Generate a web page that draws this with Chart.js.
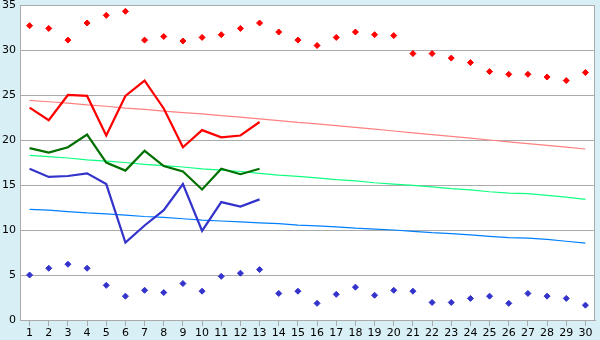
<!DOCTYPE html>
<html>
<head>
<meta charset="utf-8">
<script src="https://cdn.jsdelivr.net/npm/chart.js@4/dist/chart.umd.min.js"></script>
<style>
  html, body { margin: 0; padding: 0; background: #d9eff6; }
  #wrap { width: 600px; height: 340px; }
</style>
</head>
<body>
<div id="wrap"><canvas id="chart" width="600" height="340"></canvas></div>
<script>
// categories (day of month)
const days = ['1', '2', '3', '4', '5', '6', '7', '8', '9', '10', '11', '12', '13', '14', '15',
    '16', '17', '18', '19', '20', '21', '22', '23', '24', '25', '26', '27', '28', '29', '30'];

// record highs / lows (diamond markers)
const recordHigh = [32.7, 32.4, 31.1, 33.0, 33.85, 34.3, 31.1, 31.5, 31.0, 31.4, 31.7, 32.4, 33.0, 32.0, 31.1,
    30.5, 31.4, 32.0, 31.7, 31.6, 29.6, 29.6, 29.1, 28.6, 27.6, 27.3, 27.3, 27.0, 26.6, 27.5];
const recordLow = [5.0, 5.75, 6.2, 5.75, 3.85, 2.65, 3.3, 3.05, 4.05, 3.2, 4.85, 5.2, 5.6, 2.95, 3.2,
    1.85, 2.85, 3.65, 2.75, 3.3, 3.2, 1.95, 1.95, 2.4, 2.65, 1.85, 2.95, 2.65, 2.4, 1.65];

// current month (first 13 days)
const maxTemp = [23.6, 22.2, 25.0, 24.9, 20.5, 24.9, 26.6, 23.5, 19.2, 21.1, 20.3, 20.5, 22.0];
const meanTemp = [19.1, 18.6, 19.2, 20.6, 17.5, 16.6, 18.8, 17.1, 16.5, 14.5, 16.8, 16.2, 16.8];
const minTemp = [16.8, 15.9, 16.0, 16.3, 15.1, 8.6, 10.5, 12.2, 15.1, 9.9, 13.1, 12.6, 13.4];

// long-term normals
const normalMax = [24.4, 24.25, 24.1, 23.9, 23.75, 23.55, 23.4, 23.2, 23.05, 22.9, 22.7, 22.55, 22.35, 22.15, 21.95,
    21.8, 21.6, 21.4, 21.2, 21.0, 20.8, 20.6, 20.4, 20.2, 20.0, 19.8, 19.6, 19.4, 19.2, 19.0];
const normalMean = [18.3, 18.15, 18.0, 17.8, 17.65, 17.5, 17.3, 17.15, 17.0, 16.8, 16.65, 16.5, 16.3, 16.1, 15.95,
    15.8, 15.6, 15.45, 15.25, 15.1, 14.95, 14.8, 14.6, 14.45, 14.25, 14.1, 14.05, 13.85, 13.65, 13.4];
const normalMin = [12.3, 12.2, 12.05, 11.9, 11.8, 11.65, 11.5, 11.4, 11.25, 11.1, 11.0, 10.9, 10.8, 10.7, 10.55,
    10.45, 10.35, 10.2, 10.1, 10.0, 9.85, 9.7, 9.6, 9.45, 9.3, 9.15, 9.1, 8.95, 8.75, 8.55];

const yTicks = [0, 5, 10, 15, 20, 25, 30, 35];

const GRID = '#aaaaaa';

const plotFrame = {
    id: 'plotFrame',
    beforeDraw(chart) {
        const { ctx, chartArea: a } = chart;
        ctx.save();
        ctx.fillStyle = '#ffffff';
        ctx.fillRect(a.left, a.top, a.right - a.left, a.bottom - a.top);
        ctx.restore();
    },
    afterDraw(chart) {
        const { ctx, chartArea: a } = chart;
        ctx.save();
        ctx.strokeStyle = GRID;
        ctx.lineWidth = 1;
        ctx.strokeRect(a.left + 0.5, a.top + 0.5, a.right - a.left - 1, a.bottom - a.top);
        ctx.restore();
    }
};

function lineSet(data, color, width) {
    return {
        type: 'line',
        data: data,
        borderColor: color,
        borderWidth: width,
        pointRadius: 0,
        tension: 0,
        fill: false
    };
}

function markerSet(data, color) {
    return {
        type: 'line',
        data: data,
        showLine: false,
        pointStyle: 'rectRot',
        pointRadius: 3,
        pointBackgroundColor: color,
        pointBorderColor: color,
        pointBorderWidth: 1
    };
}

new Chart(document.getElementById('chart'), {
    type: 'line',
    data: {
        labels: days,
        datasets: [
            markerSet(recordHigh, '#ff0000'),
            markerSet(recordLow, '#3333cc'),
            lineSet(maxTemp, '#ff0000', 2.2),
            lineSet(meanTemp, '#007000', 2.2),
            lineSet(minTemp, '#3333cc', 2.2),
            lineSet(normalMax, '#ff8080', 1.2),
            lineSet(normalMean, '#10ff80', 1.2),
            lineSet(normalMin, '#0080ff', 1.2)
        ]
    },
    options: {
        responsive: false,
        animation: false,
        layout: { padding: { top: 5, right: 5, left: 0, bottom: 0 } },
        plugins: {
            legend: { display: false },
            tooltip: { enabled: false }
        },
        scales: {
            x: {
                offset: true,
                afterFit: s => { s.height = 20; s.paddingLeft = 0; s.paddingRight = 0; },
                grid: {
                    drawOnChartArea: false,
                    drawTicks: true,
                    tickLength: 6,
                    color: GRID
                },
                border: { color: GRID },
                ticks: {
                    color: '#000000',
                    padding: 1,
                    maxRotation: 0,
                    autoSkip: false,
                    font: { family: 'DejaVu Sans', size: 11 }
                }
            },
            y: {
                min: 0,
                max: 35,
                afterFit: s => { s.width = 20; s.paddingTop = 0; s.paddingBottom = 0; },
                afterBuildTicks: s => { s.ticks = yTicks.map(v => ({ value: v })); },
                grid: {
                    color: GRID,
                    drawTicks: false
                },
                border: { color: GRID },
                ticks: {
                    color: '#000000',
                    padding: 4,
                    font: { family: 'DejaVu Sans', size: 11 }
                }
            }
        }
    },
    plugins: [plotFrame]
});
</script>
</body>
</html>
